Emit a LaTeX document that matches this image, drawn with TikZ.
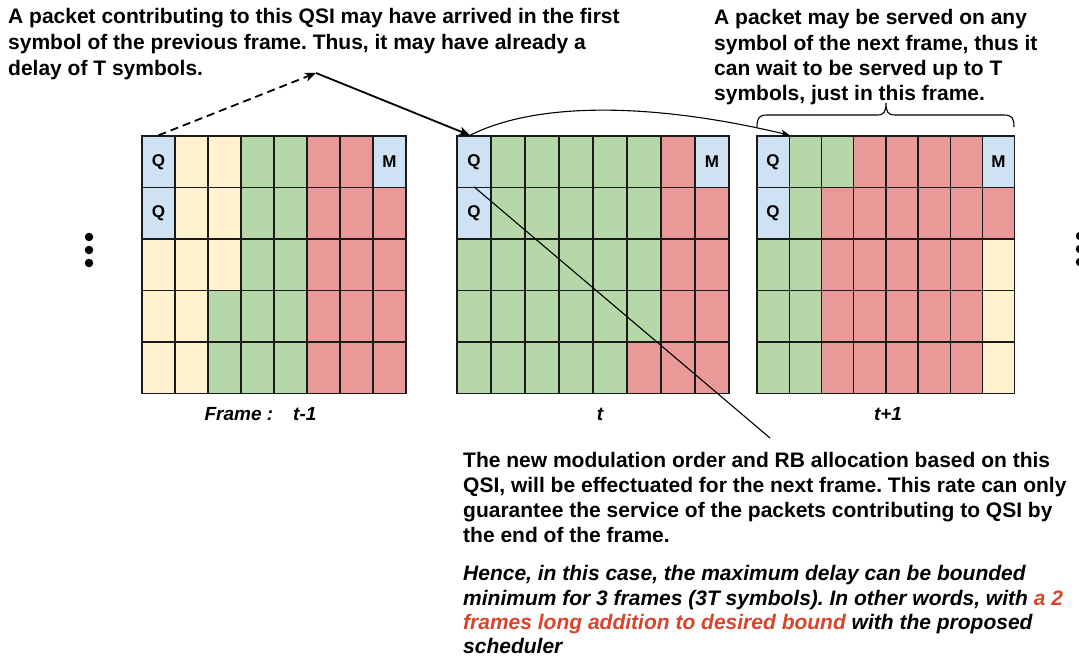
\documentclass[tikz,border=0pt]{standalone}
\usepackage{fontspec}
\setmainfont{Liberation Sans}
\usetikzlibrary{arrows.meta,calc}
\frenchspacing
\definecolor{cB}{HTML}{CFE2F3}
\definecolor{cY}{HTML}{FFF2CC}
\definecolor{cG}{HTML}{B6D7A8}
\definecolor{cR}{HTML}{EA9999}
\definecolor{hl}{HTML}{D9442B}
\definecolor{gridline}{HTML}{1A1A1A}
\tikzset{
  cell/.style={draw=gridline, line width=1.4pt, inner sep=0pt, minimum height=51.5pt,
    font=\bfseries\fontsize{17}{17}\selectfont},
  txt/.style={anchor=base west, inner sep=0pt, font=\bfseries\fontsize{21}{25}\selectfont},
  itxt/.style={anchor=base west, inner sep=0pt, font=\bfseries\itshape\fontsize{21}{25}\selectfont},
  framelbl/.style={anchor=base, inner sep=0pt, font=\bfseries\itshape\fontsize{19}{19}\selectfont},
  dotnode/.style={circle, fill=black, inner sep=0pt, minimum size=8.5pt},
  bigarrow/.style={line width=1.8pt, -{Stealth[length=11pt,width=9pt,inset=3pt]}},
  thinarrow/.style={line width=1.1pt, -{Stealth[length=9pt,width=7pt,inset=2.5pt]}},
}
\newcommand\drawgrid[4]{%
  \foreach \rw [count=\ri] in {#4} {
    \foreach \cc [count=\ci] in \rw {
      \node[cell, minimum width=#3pt, fill=c\cc] (#1-\ri-\ci)
        at ({#2+(\ci-0.5)*#3}, {136+(\ri-0.5)*51.5})
        {\ifnum\ci=1 \ifnum\ri<3 Q\fi\fi\ifnum\ci=8 \ifnum\ri=1 M\fi\fi};
    }
  }
}
\begin{document}
\begin{tikzpicture}[x=1pt,y=-1pt]
\clip (0,0) rectangle (1079,658);
\fill[white] (0,0) rectangle (1079,658);

% grids
\drawgrid{ga}{142}{33}{{B,Y,Y,G,G,R,R,B},{B,Y,Y,G,G,R,R,R},{Y,Y,Y,G,G,R,R,R},{Y,Y,G,G,G,R,R,R},{Y,Y,G,G,G,R,R,R}}
\drawgrid{gb}{457}{34}{{B,G,G,G,G,G,R,B},{B,G,G,G,G,G,R,R},{G,G,G,G,G,G,R,R},{G,G,G,G,G,G,R,R},{G,G,G,G,G,R,R,R}}
\drawgrid{gc}{757}{32.2}{{B,G,G,R,R,R,R,B},{B,G,R,R,R,R,R,R},{G,G,R,R,R,R,R,Y},{G,G,R,R,R,R,R,Y},{G,G,R,R,R,R,R,Y}}

% frame labels
\node[framelbl] (lab1) at (260.5,420) {Frame :\hspace{20pt}t-1};
\node[framelbl] (lab2) at (600,420) {t};
\node[framelbl] (lab3) at (888,420) {t+1};

% dots
\node[dotnode] (dl1) at (89,237) {};
\node[dotnode] (dl2) at (89,250) {};
\node[dotnode] (dl3) at (89,263) {};
\node[dotnode] (dr1) at (1080,236) {};
\node[dotnode] (dr2) at (1080,249) {};
\node[dotnode] (dr3) at (1080,262) {};

% connectors
\coordinate (apex) at (316,73);
\coordinate (qtop) at ($(gb-1-1.north)+(-4,0)$);
\coordinate (diagend) at (770,438);
\draw[bigarrow, dash pattern=on 8pt off 5pt] (ga-1-1.north) -- (apex);
\draw[bigarrow] (apex) -- (qtop);
\draw[thinarrow] (qtop) .. controls (540,100) and (659,104) .. (gc-1-1.north east);
\draw[line width=1.1pt] (gb-2-1.north) -- (diagend);

% brace
\draw[line width=1.1pt] (757,127) .. controls (757,118) and (759,115) .. (767,115) -- (877,115)
  .. controls (884,115) and (886,112) .. (886,103)
  .. controls (886,112) and (888,115) .. (895,115) -- (1004,115)
  .. controls (1012,115) and (1014,118) .. (1014,127);

% text block 1
\node[txt] (t1a) at (8,24) {A packet contributing to this QSI may have arrived in the first};
\node[txt] (t1b) at (8,50) {symbol of the previous frame. Thus, it may have already a};
\node[txt] (t1c) at (8,76) {delay of T symbols.};
% text block 2
\node[txt] (t2a) at (714,25) {A packet may be served on any};
\node[txt] (t2b) at (714,50.5) {symbol of the next frame, thus it};
\node[txt] (t2c) at (714,76) {can wait to be served up to T};
\node[txt] (t2d) at (714,101) {symbols, just in this frame.};
% text block 3
\node[txt] (t3a) at (463,467) {The new modulation order and RB allocation based on this};
\node[txt] (t3b) at (463,492) {QSI, will be effectuated for the next frame. This rate can only};
\node[txt] (t3c) at (463,517) {guarantee the service of the packets contributing to QSI by};
\node[txt] (t3d) at (463,542) {the end of the frame.};
% text block 4
\node[itxt] (t4a) at (463,580) {Hence, in this case, the maximum delay can be bounded};
\node[itxt] (t4b) at (463,605) {minimum for 3 frames (3T symbols). In other words, with \textcolor{hl}{a 2}};
\node[itxt] (t4c) at (463,629) {\textcolor{hl}{frames long addition to desired bound} with the proposed};
\node[itxt] (t4d) at (463,653) {scheduler};
\end{tikzpicture}
\end{document}
